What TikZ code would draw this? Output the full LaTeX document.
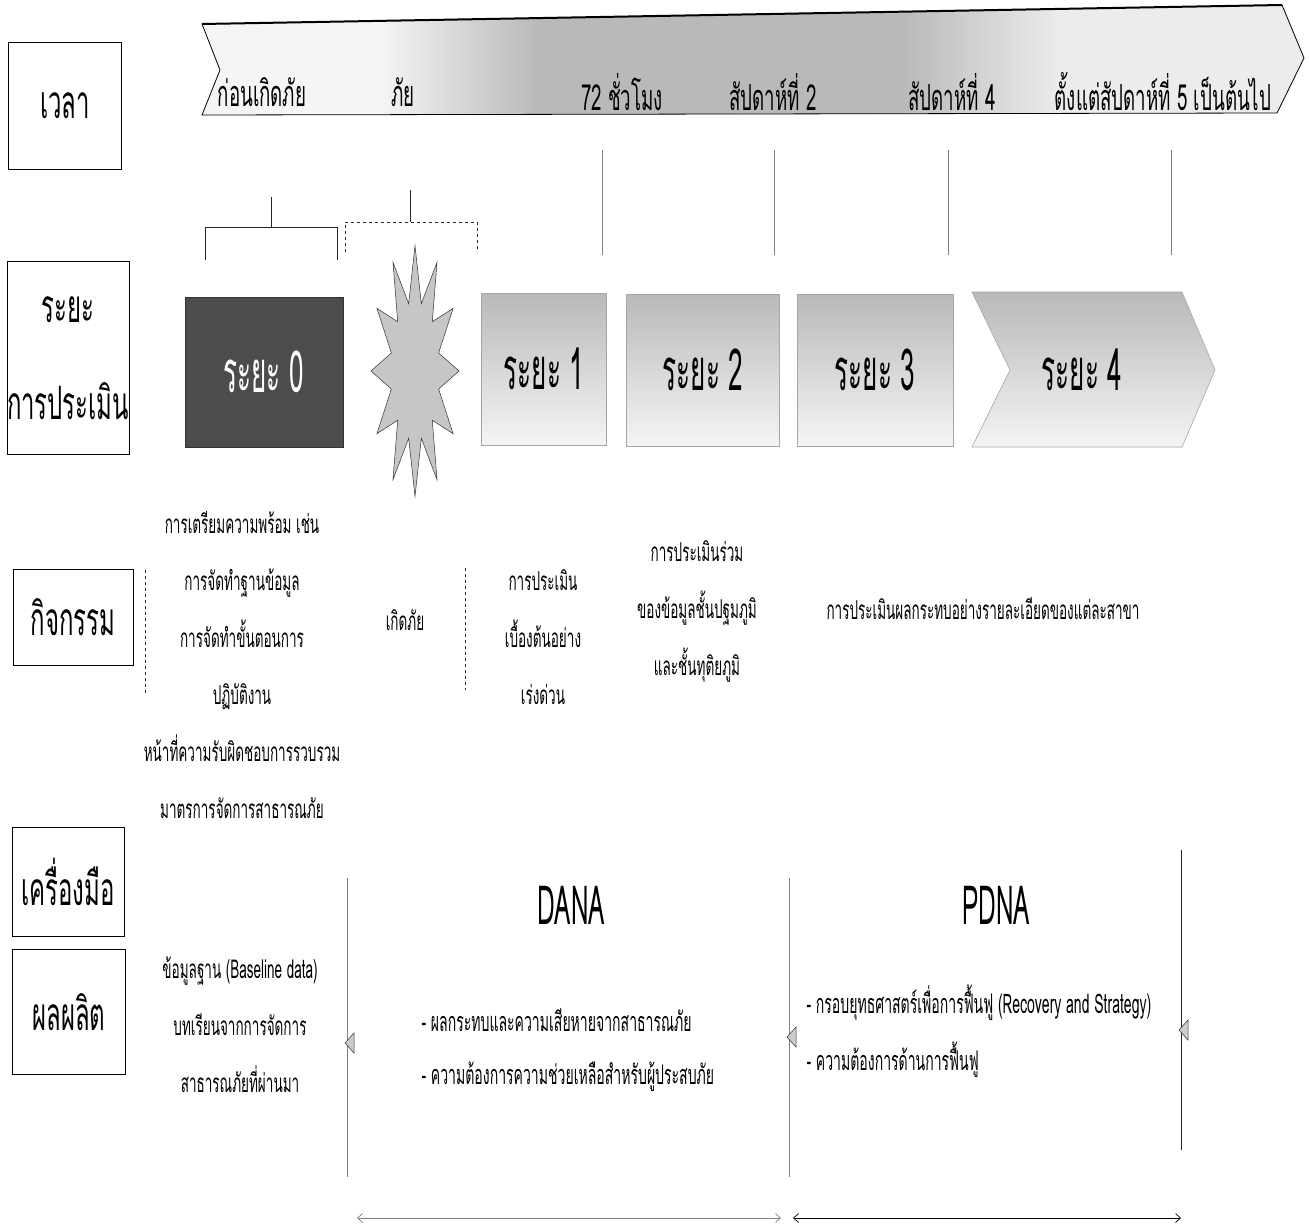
\documentclass[tikz,border=0pt]{standalone}
\usepackage{fontspec}
\setmainfont[Script=Thai,FakeStretch=0.52]{Loma}
\newfontfamily\tallfont[Script=Thai,FakeStretch=0.45]{Loma}
\usetikzlibrary{arrows.meta,positioning,shapes.geometric}

\tikzset{
  rowlabel/.style={draw, line width=0.7pt, align=center, inner xsep=0pt,
    font=\fontsize{46}{97}\selectfont},
  phasetext/.style={font=\tallfont\fontsize{58}{64}\selectfont},
  phasebox/.style={draw=gray!70, top color=gray!55, bottom color=gray!8,
    minimum height=152, phasetext},
  whentext/.style={font=\fontsize{36}{40}\selectfont},
  acttext/.style={align=center, font=\fontsize{26}{57}\selectfont},
  bullettext/.style={anchor=west, font=\fontsize{27}{40}\selectfont},
  toolhead/.style={font=\tallfont\fontsize{54}{60}\selectfont},
  marker/.style={fill=gray!40, draw=black!80, line width=0.5pt},
  rule/.style={line width=0.6pt, black!85},
  span/.style={{Straight Barb[length=5pt,width=9pt]}-{Straight Barb[length=5pt,width=9pt]}, line width=0.7pt},
}

\begin{document}
\begin{tikzpicture}[%
      x=1pt, y=-1pt,
      ]
      \useasboundingbox (0,0) rectangle (1309,1231);
      \fill [white] (0,0) rectangle (1309,1231);

      % time banner
      \begin{scope}
        \clip (202,24) -- (1282,5) -- (1304,58) -- (1277,113) -- (202,115) -- (220,70) -- cycle;
        \fill [gray!8] (200,0) rectangle (380,120);
        \shade [left color=gray!8, right color=gray!55] (380,0) rectangle (540,120);
        \fill [gray!55] (540,0) rectangle (900,120);
        \shade [left color=gray!55, right color=gray!15] (900,0) rectangle (1060,120);
        \fill [gray!15] (1060,0) rectangle (1310,120);
      \end{scope}
      \draw [line width=0.8pt] (1282,5) -- (1304,58) -- (1277,113) -- (202,115) -- (220,70) -- (202,24);
      \draw [line width=2pt] (202,24) -- (1282,5);
      \foreach \tx/\lbl in {262/ก่อนเกิดภัย, 403/ภัย, 622/72 ชั่วโมง,
          773/สัปดาห์ที่ 2, 952/สัปดาห์ที่ 4, 1163/ตั้งแต่สัปดาห์ที่ 5 เป็นต้นไป}
        \node [whentext] (when\tx) at (\tx,92) {\lbl};

      % row labels
      \node [rowlabel, minimum width=113, minimum height=127] (timelbl) at (65,106) {เวลา};
      \node [rowlabel, minimum width=112, minimum height=193] (phaselbl) at (68,358) {ระยะ\\การประเมิน};
      \node [rowlabel, minimum width=120, minimum height=96] (actlbl) at (73,617) {กิจกรรม};
      \node [rowlabel, minimum width=112, minimum height=109] (toollbl) at (68,882) {เครื่องมือ};
      \node [rowlabel, minimum width=113, minimum height=125] (outlbl) at (69,1012) {ผลผลิต};

      % brackets and ticks
      \draw [rule] (205,260) |- (337,227) -- (337,260);
      \draw [rule] (271,227) -- (271,197);
      \draw [rule, dashed] (345,252) |- (477,222) -- (477,252);
      \draw [rule] (410,222) -- (410,190);
      \foreach \x in {602,774,948,1171}
        \draw [rule, gray] (\x,150) -- (\x,255);

      % phases
      \node [draw=black!80, fill=black!70, text=white, phasetext,
        minimum width=158, minimum height=150] (p0) at (264,372) {ระยะ 0};
      \node [star, star points=12, star point ratio=1.8, minimum size=88, inner sep=0pt,
        fill=gray!45, draw=black!80, line width=0.5pt, yscale=2.85, transform shape]
        (burst) at (415,371) {};
      \node [phasebox, minimum width=125] (p1) at (544,369) {ระยะ 1};
      \node [phasebox, minimum width=153] (p2) at (703,370) {ระยะ 2};
      \node [phasebox, minimum width=156] (p3) at (875,370) {ระยะ 3};
      \shade [top color=gray!55, bottom color=gray!8]
        (972,292) -- (1182,292) -- (1215,370) -- (1182,447) -- (972,447) -- (1010,370) -- cycle;
      \draw [gray!70, line width=0.6pt]
        (972,292) -- (1182,292) -- (1215,370) -- (1182,447) -- (972,447) -- (1010,370) -- cycle;
      \node [phasetext] (p4) at (1082,370) {ระยะ 4};

      % activities
      \draw [rule, dashed] (145,570) -- (145,693);
      \draw [rule, dashed] (465,568) -- (465,690);
      \node [acttext] (act0) at (242,665) {การเตรียมความพร้อม เช่น\\การจัดทำฐานข้อมูล\\การจัดทำขั้นตอนการ\\ปฏิบัติงาน\\หน้าที่ความรับผิดชอบการรวบรวม\\มาตรการจัดการสาธารณภัย};
      \node [acttext] (hazard) at (405,620) {เกิดภัย};
      \node [acttext] (act1) at (543,637) {การประเมิน\\เบื้องต้นอย่าง\\เร่งด่วน};
      \node [acttext] (act2) at (697,611) {การประเมินร่วม\\ของข้อมูลชั้นปฐมภูมิ\\และชั้นทุติยภูมิ};
      \node [acttext] (act3) at (983,609) {การประเมินผลกระทบอย่างรายละเอียดของแต่ละสาขา};

      % tools and outputs
      \coordinate (l0top) at (347,878);
      \coordinate (l0bot) at (347,1177);
      \coordinate (l1top) at (789,878);
      \coordinate (l1bot) at (789,1177);
      \coordinate (l2top) at (1181,850);
      \coordinate (l2bot) at (1181,1150);
      \draw [rule, gray] (l0top) -- (l0bot);
      \draw [rule, gray] (l1top) -- (l1bot);
      \draw [rule] (l2top) -- (l2bot);
      \foreach \mx/\my in {345/1043, 787/1037, 1179/1030}
        \filldraw [marker] (\mx,\my) -- ++(9,-10) -- ++(0,20) -- cycle;

      \node [acttext] (base) at (240,1025) {ข้อมูลฐาน (Baseline data)\\บทเรียนจากการจัดการ\\สาธารณภัยที่ผ่านมา};
      \node [toolhead] (dana) at (571,905) {DANA};
      \node [bullettext] (dana1) at (418,1020) {- ผลกระทบและความเสียหายจากสาธารณภัย};
      \node [bullettext] (dana2) at (418,1077) {- ความต้องการความช่วยเหลือสำหรับผู้ประสบภัย};
      \node [toolhead] (pdna) at (996,905) {PDNA};
      \node [bullettext] (pdna1) at (803,1003) {- กรอบยุทธศาสตร์เพื่อการฟื้นฟู (Recovery and Strategy)};
      \node [bullettext] (pdna2) at (803,1060) {- ความต้องการด้านการฟื้นฟู};

      \coordinate (a0) at (357,1218);
      \coordinate (a1) at (781,1218);
      \coordinate (a2) at (793,1218);
      \coordinate (a3) at (1181,1218);
      \draw [span, gray] (a0) -- (a1);
      \draw [span] (a2) -- (a3);
      \end{tikzpicture}
\end{document}
